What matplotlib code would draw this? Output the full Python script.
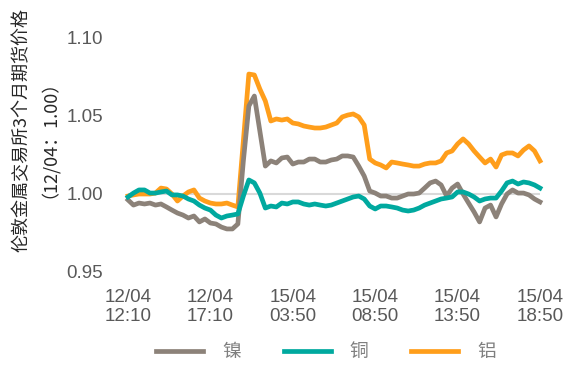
import numpy as np
import matplotlib
matplotlib.use("Agg")
import matplotlib.pyplot as plt

plt.rcParams["font.family"] = ["Liberation Sans", "Noto Sans CJK SC", "DejaVu Sans"]

# time labels (every 15 samples) and normalised 3-month futures prices
tick_labels = ["12/04\n12:10", "12/04\n17:10", "15/04\n03:50",
               "15/04\n08:50", "15/04\n13:50", "15/04\n18:50"]
tick_index = [0, 15, 30, 45, 60, 75]

nickel = [0.9962, 0.9929, 0.9942, 0.9936, 0.9942, 0.9929, 0.9936, 0.9917, 0.9897, 0.9878,
          0.9865, 0.9846, 0.9859, 0.9821, 0.9840, 0.9814, 0.9808, 0.9788, 0.9776, 0.9776,
          0.9808, 1.0212, 1.0564, 1.0628, 1.0404, 1.0179, 1.0212, 1.0199, 1.0231, 1.0237,
          1.0192, 1.0205, 1.0205, 1.0224, 1.0224, 1.0205, 1.0205, 1.0218, 1.0224, 1.0244,
          1.0244, 1.0237, 1.0179, 1.0115, 1.0019, 1.0006, 0.9987, 0.9987, 0.9974, 0.9974,
          0.9987, 1.0000, 1.0000, 1.0006, 1.0038, 1.0071, 1.0083, 1.0058, 0.9987, 1.0038,
          1.0064, 1.0000, 0.9942, 0.9885, 0.9821, 0.9910, 0.9929, 0.9853, 0.9936, 1.0000,
          1.0026, 1.0006, 1.0006, 0.9994, 0.9968, 0.9949]

copper = [0.9981, 1.0006, 1.0026, 1.0026, 1.0006, 1.0006, 1.0013, 1.0019, 0.9994, 0.9994,
          0.9987, 0.9968, 0.9955, 0.9929, 0.9910, 0.9897, 0.9865, 0.9846, 0.9859, 0.9865,
          0.9872, 0.9987, 1.0090, 1.0071, 1.0006, 0.9910, 0.9923, 0.9917, 0.9942, 0.9936,
          0.9949, 0.9949, 0.9936, 0.9929, 0.9936, 0.9929, 0.9923, 0.9929, 0.9942, 0.9955,
          0.9968, 0.9981, 0.9987, 0.9968, 0.9923, 0.9904, 0.9923, 0.9923, 0.9917, 0.9910,
          0.9897, 0.9891, 0.9897, 0.9910, 0.9929, 0.9942, 0.9955, 0.9968, 0.9974, 0.9981,
          1.0013, 1.0013, 1.0000, 0.9981, 0.9955, 0.9968, 0.9974, 0.9974, 1.0019, 1.0071,
          1.0083, 1.0064, 1.0077, 1.0071, 1.0058, 1.0038]

aluminium = [0.9987, 0.9994, 1.0000, 1.0000, 1.0000, 1.0006, 1.0038, 1.0032, 1.0000, 0.9955,
             0.9987, 1.0013, 1.0026, 0.9974, 0.9955, 0.9942, 0.9936, 0.9936, 0.9942, 0.9929,
             0.9917, 1.0340, 1.0769, 1.0763, 1.0673, 1.0596, 1.0468, 1.0481, 1.0474, 1.0481,
             1.0455, 1.0449, 1.0436, 1.0429, 1.0423, 1.0423, 1.0429, 1.0442, 1.0455, 1.0494,
             1.0506, 1.0513, 1.0494, 1.0442, 1.0224, 1.0199, 1.0186, 1.0167, 1.0205, 1.0199,
             1.0192, 1.0186, 1.0179, 1.0179, 1.0192, 1.0199, 1.0199, 1.0212, 1.0263, 1.0276,
             1.0321, 1.0353, 1.0321, 1.0276, 1.0237, 1.0199, 1.0224, 1.0173, 1.0250, 1.0263,
             1.0263, 1.0244, 1.0282, 1.0308, 1.0276, 1.0212]

x = np.arange(len(nickel))

fig = plt.figure(figsize=(5.66, 3.69), dpi=100)
ax = fig.add_axes([128 / 566, 1 - 272 / 369, 412 / 566, 234 / 369])

ax.axhline(1.0, color="#d9d9d9", linewidth=1.5, zorder=1)
ax.plot(x, nickel, color="#8c8279", linewidth=3.4, label="镍", clip_on=False, zorder=3)
ax.plot(x, copper, color="#00a99f", linewidth=3.4, label="铜", clip_on=False, zorder=3)
ax.plot(x, aluminium, color="#ff9e1b", linewidth=3.4, label="铝", clip_on=False, zorder=2)

ax.set_xlim(0, 75)
ax.set_ylim(0.95, 1.10)
ax.set_yticks([0.95, 1.00, 1.05, 1.10])
ax.set_yticklabels(["0.95", "1.00", "1.05", "1.10"])
ax.set_xticks(tick_index)
ax.set_xticklabels(tick_labels)
ax.tick_params(axis="both", length=0, labelsize=13.5, labelcolor="#595959")
ax.tick_params(axis="y", pad=18)
ax.tick_params(axis="x", pad=12)
for s in ax.spines.values():
    s.set_visible(False)

fig.text(31 / 566, 1 - 130 / 369, "伦敦金属交易所3个月期货价格\n（12/04：1.00）",
         rotation=90, ha="center", va="center", multialignment="center",
         fontsize=13, color="#262626", linespacing=0.95,
         family=["Noto Sans CJK SC", "DejaVu Sans"])

fig.legend(loc="center", bbox_to_anchor=(326 / 566, 1 - 352 / 369), ncol=3,
           frameon=False, handlelength=2.5, handletextpad=1.0,
           columnspacing=2.3, labelcolor="#7f7f7f",
           prop={"family": ["Noto Sans CJK SC", "DejaVu Sans"], "size": 13.5})

fig.savefig("out.png", dpi=100)
